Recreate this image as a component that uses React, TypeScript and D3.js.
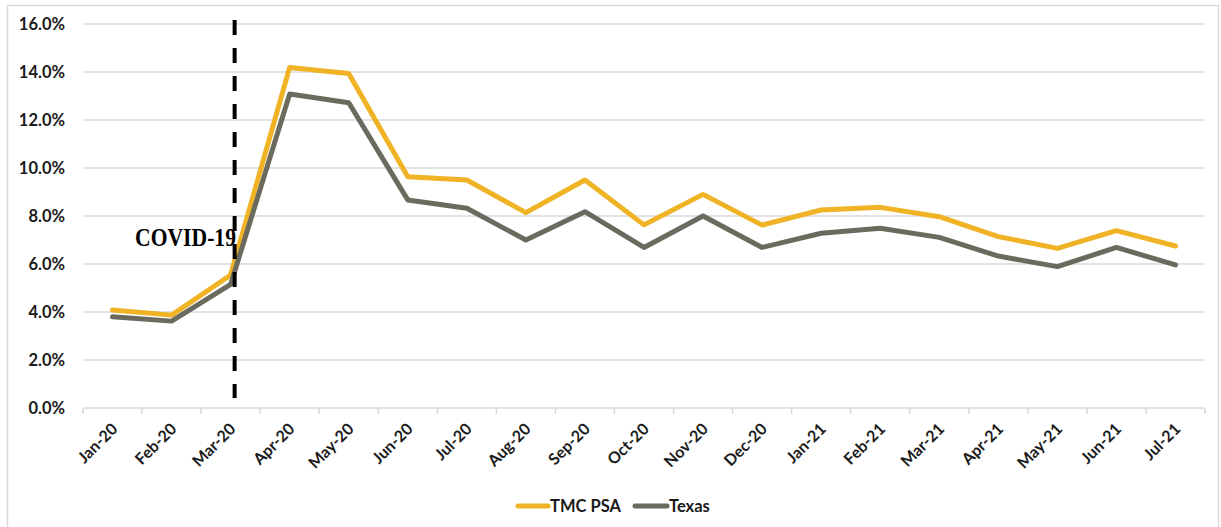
import React, { useEffect, useRef } from 'react';
import * as d3 from 'd3';

const months = ['Jan-20', 'Feb-20', 'Mar-20', 'Apr-20', 'May-20', 'Jun-20', 'Jul-20', 'Aug-20', 'Sep-20', 'Oct-20', 'Nov-20', 'Dec-20', 'Jan-21', 'Feb-21', 'Mar-21', 'Apr-21', 'May-21', 'Jun-21', 'Jul-21'];
const tmcPsa = [4.08, 3.87, 5.54, 14.19, 13.94, 9.64, 9.5, 8.14, 9.5, 7.63, 8.9, 7.62, 8.25, 8.36, 7.97, 7.14, 6.65, 7.39, 6.75];
const texas = [3.8, 3.62, 5.15, 13.08, 12.72, 8.67, 8.32, 7.0, 8.18, 6.69, 8.0, 6.69, 7.28, 7.49, 7.11, 6.33, 5.89, 6.69, 5.96];
const yTicks = [0, 2, 4, 6, 8, 10, 12, 14, 16];
const seriesNames = ['TMC PSA', 'Texas'];
const covidMonth = 'Mar-20';
const covidLabel = 'COVID-19';

const colors = ['#EFB325', '#6A6B5E'];

const App = () => {
  const svgRef = useRef<SVGSVGElement>(null);

  useEffect(() => {
    const svg = d3.select(svgRef.current);
    svg.selectAll('*').remove();

    const margin = { top: 24, left: 83, right: 1205, bottom: 408 };

    const x = d3.scaleBand().domain(months).range([margin.left, margin.right]);
    const y = d3.scaleLinear().domain([0, 16]).range([margin.bottom, margin.top]);

    // outer frame
    svg.append('rect')
      .attr('x', 7.5).attr('y', 5.5).attr('width', 1211).attr('height', 540)
      .attr('fill', 'none').attr('stroke', '#d9d9d9').attr('stroke-width', 1.5);

    // gridlines
    svg.append('g')
      .selectAll('line')
      .data(yTicks)
      .enter()
      .append('line')
      .attr('x1', margin.left).attr('x2', margin.right)
      .attr('y1', (d) => y(d)).attr('y2', (d) => y(d))
      .attr('stroke', '#d9d9d9').attr('stroke-width', 1.5);

    // y labels
    svg.append('g')
      .selectAll('text')
      .data(yTicks)
      .enter()
      .append('text')
      .attr('x', 65)
      .attr('y', (d) => y(d))
      .attr('dy', '0.36em')
      .attr('text-anchor', 'end')
      .style('font', 'bold 16.5px Lato')
      .attr('fill', '#1a1a1a')
      .text((d) => d.toFixed(1) + '%');

    // x ticks
    const tickPos = months.map((m) => x(m)!).concat([margin.right]);
    svg.append('g')
      .selectAll('line')
      .data(tickPos)
      .enter()
      .append('line')
      .attr('x1', (d) => d).attr('x2', (d) => d)
      .attr('y1', margin.bottom).attr('y2', margin.bottom + 6)
      .attr('stroke', '#d9d9d9').attr('stroke-width', 1.5);

    // x labels
    svg.append('g')
      .selectAll('text')
      .data(months)
      .enter()
      .append('text')
      .attr('transform', (d) => `translate(${x(d)! + x.bandwidth() / 2 + 6},${margin.bottom + 22}) rotate(-45)`)
      .attr('text-anchor', 'end')
      .style('font', 'bold 16px Lato')
      .attr('fill', '#1a1a1a')
      .text((d) => d);

    // lines
    const line = d3.line<number>()
      .x((d, i) => x(months[i])! + x.bandwidth() / 2)
      .y((d) => y(d));

    [tmcPsa, texas].forEach((vals, i) => {
      svg.append('path')
        .datum(vals)
        .attr('d', line)
        .attr('fill', 'none')
        .attr('stroke', colors[i])
        .attr('stroke-width', 5)
        .attr('stroke-linejoin', 'round')
        .attr('stroke-linecap', 'round');
    });

    // COVID marker
    const cx = x(covidMonth)! + x.bandwidth() / 2 + 4;
    svg.append('line')
      .attr('x1', cx).attr('x2', cx)
      .attr('y1', 20).attr('y2', 398)
      .attr('stroke', '#000').attr('stroke-width', 4)
      .attr('stroke-dasharray', '15,13');

    svg.append('text')
      .attr('x', 135).attr('y', 246)
      .attr('textLength', 101)
      .attr('lengthAdjust', 'spacingAndGlyphs')
      .style('font', 'bold 25px "Liberation Serif"')
      .attr('fill', '#000')
      .text(covidLabel);

    // legend
    const legendItems = [
      { name: seriesNames[0], x: 518, w: 30 },
      { name: seriesNames[1], x: 635, w: 32 },
    ];
    legendItems.forEach((item, i) => {
      svg.append('line')
        .attr('x1', item.x).attr('x2', item.x + item.w)
        .attr('y1', 506).attr('y2', 506)
        .attr('stroke', colors[i]).attr('stroke-width', 5)
        .attr('stroke-linecap', 'round');
      svg.append('text')
        .attr('x', item.x + item.w + 2).attr('y', 506)
        .attr('dy', '0.36em')
        .style('font', 'bold 16.5px Lato')
        .attr('fill', '#1a1a1a')
        .text(item.name);
    });
  }, []);

  return (
    <svg
      ref={svgRef}
      width={1221}
      height={527}
      style={{ position: 'absolute', left: 0, top: 0, background: '#fff' }}
    />
  );
};

export default App;
